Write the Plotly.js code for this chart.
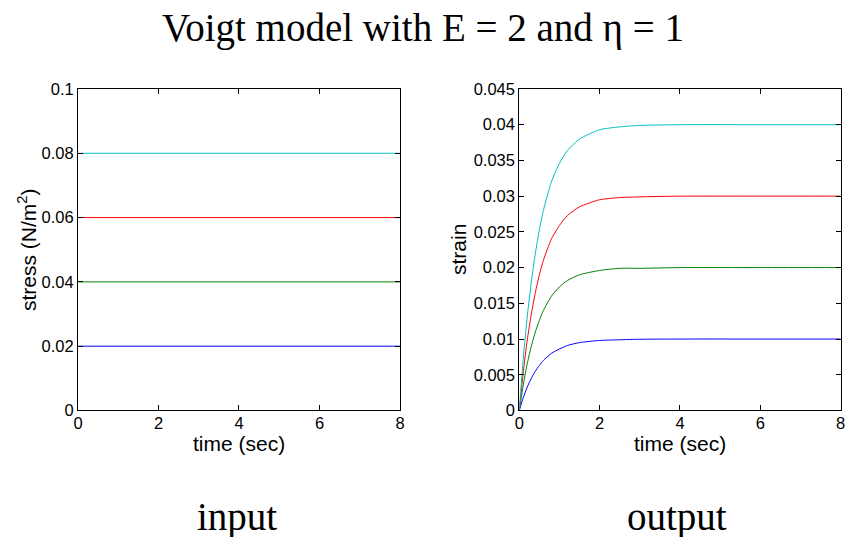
<!DOCTYPE html>
<html>
<head>
<meta charset="utf-8">
<script src="https://cdn.plot.ly/plotly-3.0.1.min.js"></script>
<style>html,body{margin:0;padding:0;background:#fff;}#chart{width:846px;height:537px;}</style>
</head>
<body>
<div id="chart"></div>
<script>
// Input (stress) – constant levels
const timeInput = [0, 8];
const stressBlue  = [0.02, 0.02];
const stressGreen = [0.04, 0.04];
const stressRed   = [0.06, 0.06];
const stressCyan  = [0.08, 0.08];

// Output (strain)
const timeOutput  = [0, 0.1, 0.2, 0.3, 0.4, 0.5, 0.6, 0.8, 1.0, 1.2, 1.5, 2.0, 2.5, 3.0, 4.0, 6.0, 8.0];
const strainBlue  = [0, 0.0018, 0.0033, 0.0045, 0.0055, 0.0063, 0.0070, 0.0080, 0.0086, 0.0091, 0.0095, 0.0098, 0.0099, 0.00997, 0.0100, 0.0100, 0.0100];
const strainGreen = [0, 0.0036, 0.0066, 0.0090, 0.0110, 0.0126, 0.0140, 0.0160, 0.0173, 0.0182, 0.0190, 0.0196, 0.0199, 0.0199, 0.0200, 0.0200, 0.0200];
const strainRed   = [0, 0.0054, 0.0099, 0.0135, 0.0165, 0.0190, 0.0210, 0.0240, 0.0259, 0.0273, 0.0285, 0.0295, 0.0298, 0.0299, 0.0300, 0.0300, 0.0300];
const strainCyan  = [0, 0.0073, 0.0132, 0.0180, 0.0220, 0.0253, 0.0280, 0.0320, 0.0346, 0.0364, 0.0380, 0.0393, 0.0397, 0.0399, 0.0400, 0.0400, 0.0400];

const xTicks = [0, 2, 4, 6, 8];
const yTicksLeft = [0, 0.02, 0.04, 0.06, 0.08, 0.1];
const yTickTextLeft = ['0', '0.02', '0.04', '0.06', '0.08', '0.1'];
const yTicksRight = [0, 0.005, 0.01, 0.015, 0.02, 0.025, 0.03, 0.035, 0.04, 0.045];
const yTickTextRight = ['0', '0.005', '0.01', '0.015', '0.02', '0.025', '0.03', '0.035', '0.04', '0.045'];

const colors = {blue: '#0000ff', green: '#008000', red: '#ff0000', cyan: '#00bfbf'};

function line(x, y, c, xa, ya, shape) {
  return {x: x, y: y, type: 'scatter', mode: 'lines', xaxis: xa, yaxis: ya,
          line: {color: c, width: 1, shape: shape || 'linear', smoothing: 0.6}, hoverinfo: 'skip'};
}

const data = [
  line(timeInput, stressBlue, colors.blue, 'x', 'y'),
  line(timeInput, stressGreen, colors.green, 'x', 'y'),
  line(timeInput, stressRed, colors.red, 'x', 'y'),
  line(timeInput, stressCyan, colors.cyan, 'x', 'y'),
  line(timeOutput, strainBlue, colors.blue, 'x2', 'y2', 'spline'),
  line(timeOutput, strainGreen, colors.green, 'x2', 'y2', 'spline'),
  line(timeOutput, strainRed, colors.red, 'x2', 'y2', 'spline'),
  line(timeOutput, strainCyan, colors.cyan, 'x2', 'y2', 'spline')
];

const sans = 'Liberation Sans, Arial, sans-serif';
const serif = 'Liberation Serif, Times New Roman, serif';
const tickFont = {family: sans, size: 16.5, color: '#000'};
const titleFont = {family: sans, size: 21, color: '#000'};

function xAxis(domain, anchor) {
  return {domain: domain, anchor: anchor, range: [0, 8], tickvals: xTicks, ticktext: xTicks.map(String),
    ticks: 'inside', ticklen: 5, tickcolor: '#000', showline: true, linecolor: '#000', linewidth: 1,
    mirror: 'ticks', showgrid: false, zeroline: false, tickfont: tickFont, automargin: false,
    ticklabelstandoff: -2};
}
function yAxis(range, tv, tt, anchor) {
  return {domain: [0.2356, 0.8343], anchor: anchor, range: range, tickvals: tv, ticktext: tt,
    ticks: 'inside', ticklen: 5, tickcolor: '#000', showline: true, linecolor: '#000', linewidth: 1,
    mirror: 'ticks', showgrid: false, zeroline: false, tickfont: tickFont, automargin: false};
}
function note(text, x, y, font, angle) {
  return {text: text, xref: 'paper', yref: 'paper', x: x / 846, y: 1 - y / 537, xanchor: 'center', yanchor: 'middle',
          showarrow: false, textangle: angle || 0, font: font, borderpad: 0};
}

const bigFont = {family: serif, size: 39, color: '#000'};
const layout = {
  width: 846, height: 537,
  margin: {l: 0, r: 0, t: 0, b: 0},
  paper_bgcolor: '#fff', plot_bgcolor: '#fff',
  showlegend: false,
  title: {text: 'Voigt model with E = 2 and \u03b7 = 1', x: 0.5, xanchor: 'center', y: 1 - 27/537, yanchor: 'middle',
          font: bigFont},
  xaxis: xAxis([0.0922, 0.4728], 'y'),
  yaxis: yAxis([0, 0.1], yTicksLeft, yTickTextLeft, 'x'),
  xaxis2: xAxis([0.6138, 0.9937], 'y2'),
  yaxis2: yAxis([0, 0.045], yTicksRight, yTickTextRight, 'x2'),
  annotations: [
    note('time (sec)', 239, 443, titleFont),
    note('time (sec)', 680, 443, titleFont),
    note('stress (N/m<sup>2</sup>)', 27, 250, titleFont, -90),
    note('strain', 458, 250, titleFont, -90),
    note('input', 237, 517, bigFont),
    note('output', 677, 517, bigFont)
  ]
};

Plotly.newPlot('chart', data, layout, {displayModeBar: false, staticPlot: true});
</script>
</body>
</html>
